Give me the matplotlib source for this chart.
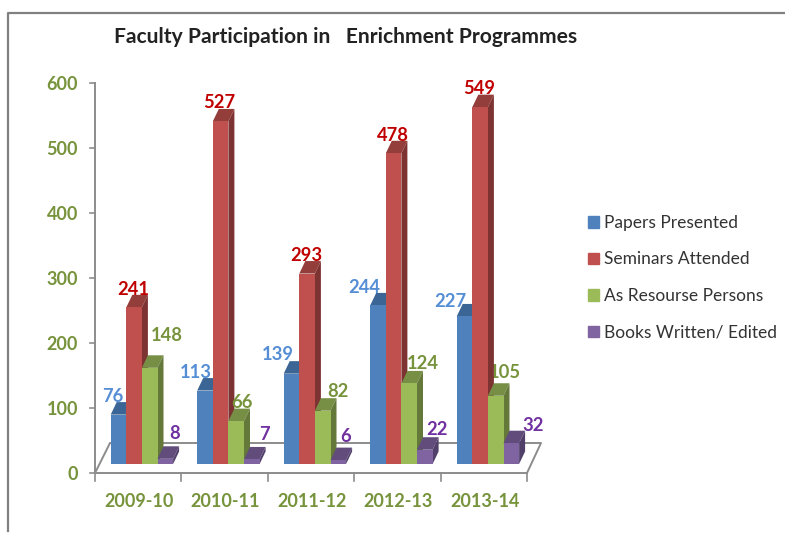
import matplotlib
matplotlib.use("Agg")
import matplotlib.pyplot as plt
from matplotlib.patches import Polygon, Patch

plt.rcParams['font.family'] = ['Lato', 'DejaVu Sans']

anos = ["2009-10", "2010-11", "2011-12", "2012-13", "2013-14"]
series = ["Papers Presented", "Seminars Attended", "As Resourse Persons", "Books Written/ Edited"]
papers = [76, 113, 139, 244, 227]
seminars = [241, 527, 293, 478, 549]
resource = [148, 66, 82, 124, 105]
books = [8, 7, 6, 22, 32]
ticks_y = [0, 100, 200, 300, 400, 500, 600]

cor_frente = ["#4F81BD", "#C0504D", "#9BBB59", "#8064A2"]
cor_topo = ["#3A6594", "#943E3B", "#778F45", "#614C7C"]
cor_lado = ["#31557D", "#7C3331", "#64783A", "#51406A"]
cor_label = ["#558ED5", "#C00000", "#77933C", "#7030A0"]
verde = "#77933C"
cinza = "#8C8C8C"

# deslocamento dos rotulos em relacao ao centro/topo de cada barra (px)
label_dx = [[-6, -9, -14, -14, -14], [-1, -1, -1, -1, -1],
            [17, 6, 15, 14, 9], [9, 13, 7, 12, 22]]
label_dy = [18, 18, 19, 18, 15], [18, 19, 18, 18, 19], [32, 19, 19, 20, 23], [25, 25, 24, 20, 18]

escala = 0.65     # px por unidade
base_px = 464     # linha da base das barras
largura = 15.6
passo = 86.5
inicio = 110.7
dx = 6
dy = 12.5 / escala
piso = -9 / escala   # eixo frontal fica abaixo da base das barras
fundo = 21 / escala  # linha de tras do piso


def val(py):
    return (base_px - py) / escala


fig = plt.figure(figsize=(7.85, 5.33), dpi=100)
ax = fig.add_axes([0, 0, 1, 1])
ax.set_xlim(0, 785)
ax.set_ylim(val(533), val(0))
ax.axis("off")

# moldura
ax.plot([785, 8, 8], [val(13), val(13), val(531)], color="#808080", lw=1.6, zorder=1)

# paredes e piso
ax.plot([95, 110, 541, 527, 95, 95], [piso, fundo, fundo, piso, piso, 600 + piso], color=cinza, lw=1.4, zorder=2)
for t in ticks_y:
    ax.plot([90, 95], [t + piso, t + piso], color=cinza, lw=1.2, zorder=2)
    ax.text(78, t + piso - 1.5 / escala, str(t), color=verde, fontsize=13, fontweight="bold", ha="right", va="center")
for i in range(6):
    xt = 95 + i * 86.4
    ax.plot([xt, xt], [piso, piso - 8 / escala], color=cinza, lw=1.2, zorder=2)

# barras
valores = [papers, seminars, resource, books]
z = 3
for i in range(len(anos)):
    for s, v in enumerate(valores):
        x0 = inicio + i * passo + s * largura
        h = v[i]
        ax.bar(x0, h, width=largura, align="edge", color=cor_frente[s], zorder=z + 1)
        x1 = x0 + largura
        ax.add_patch(Polygon([(x0, h), (x1, h), (x1 + dx, h + dy), (x0 + dx, h + dy)], color=cor_topo[s], lw=0, zorder=z))
        ax.add_patch(Polygon([(x1, 0), (x1, h), (x1 + dx, h + dy), (x1 + dx, dy)], color=cor_lado[s], lw=0, zorder=z))
        ax.text(x0 + largura / 2 + label_dx[s][i], h + label_dy[s][i] / escala, str(h), color=cor_label[s],
                fontsize=13.2, fontweight="bold", ha="center", va="center", zorder=30)
        z += 2
    ax.text(inicio + i * passo + 28, val(501.5), anos[i], color=verde, fontsize=13, fontweight="bold",
            ha="center", va="center")

ax.text(345.5, val(37), "Faculty Participation in   Enrichment Programmes", color="#222222", fontsize=15.1,
        fontweight="bold", ha="center", va="center")

handles = [Patch(color=c, label=n) for c, n in zip(cor_frente, series)]
ax.legend(handles=handles, loc="upper left", bbox_to_anchor=(588 / 785, 1 - 215 / 533), frameon=False,
          fontsize=12.5, labelcolor="#333333", handlelength=0.63, handleheight=0.63, handletextpad=0.29,
          labelspacing=1.18, borderpad=0, borderaxespad=0)

plt.savefig("out.png", dpi=100)
